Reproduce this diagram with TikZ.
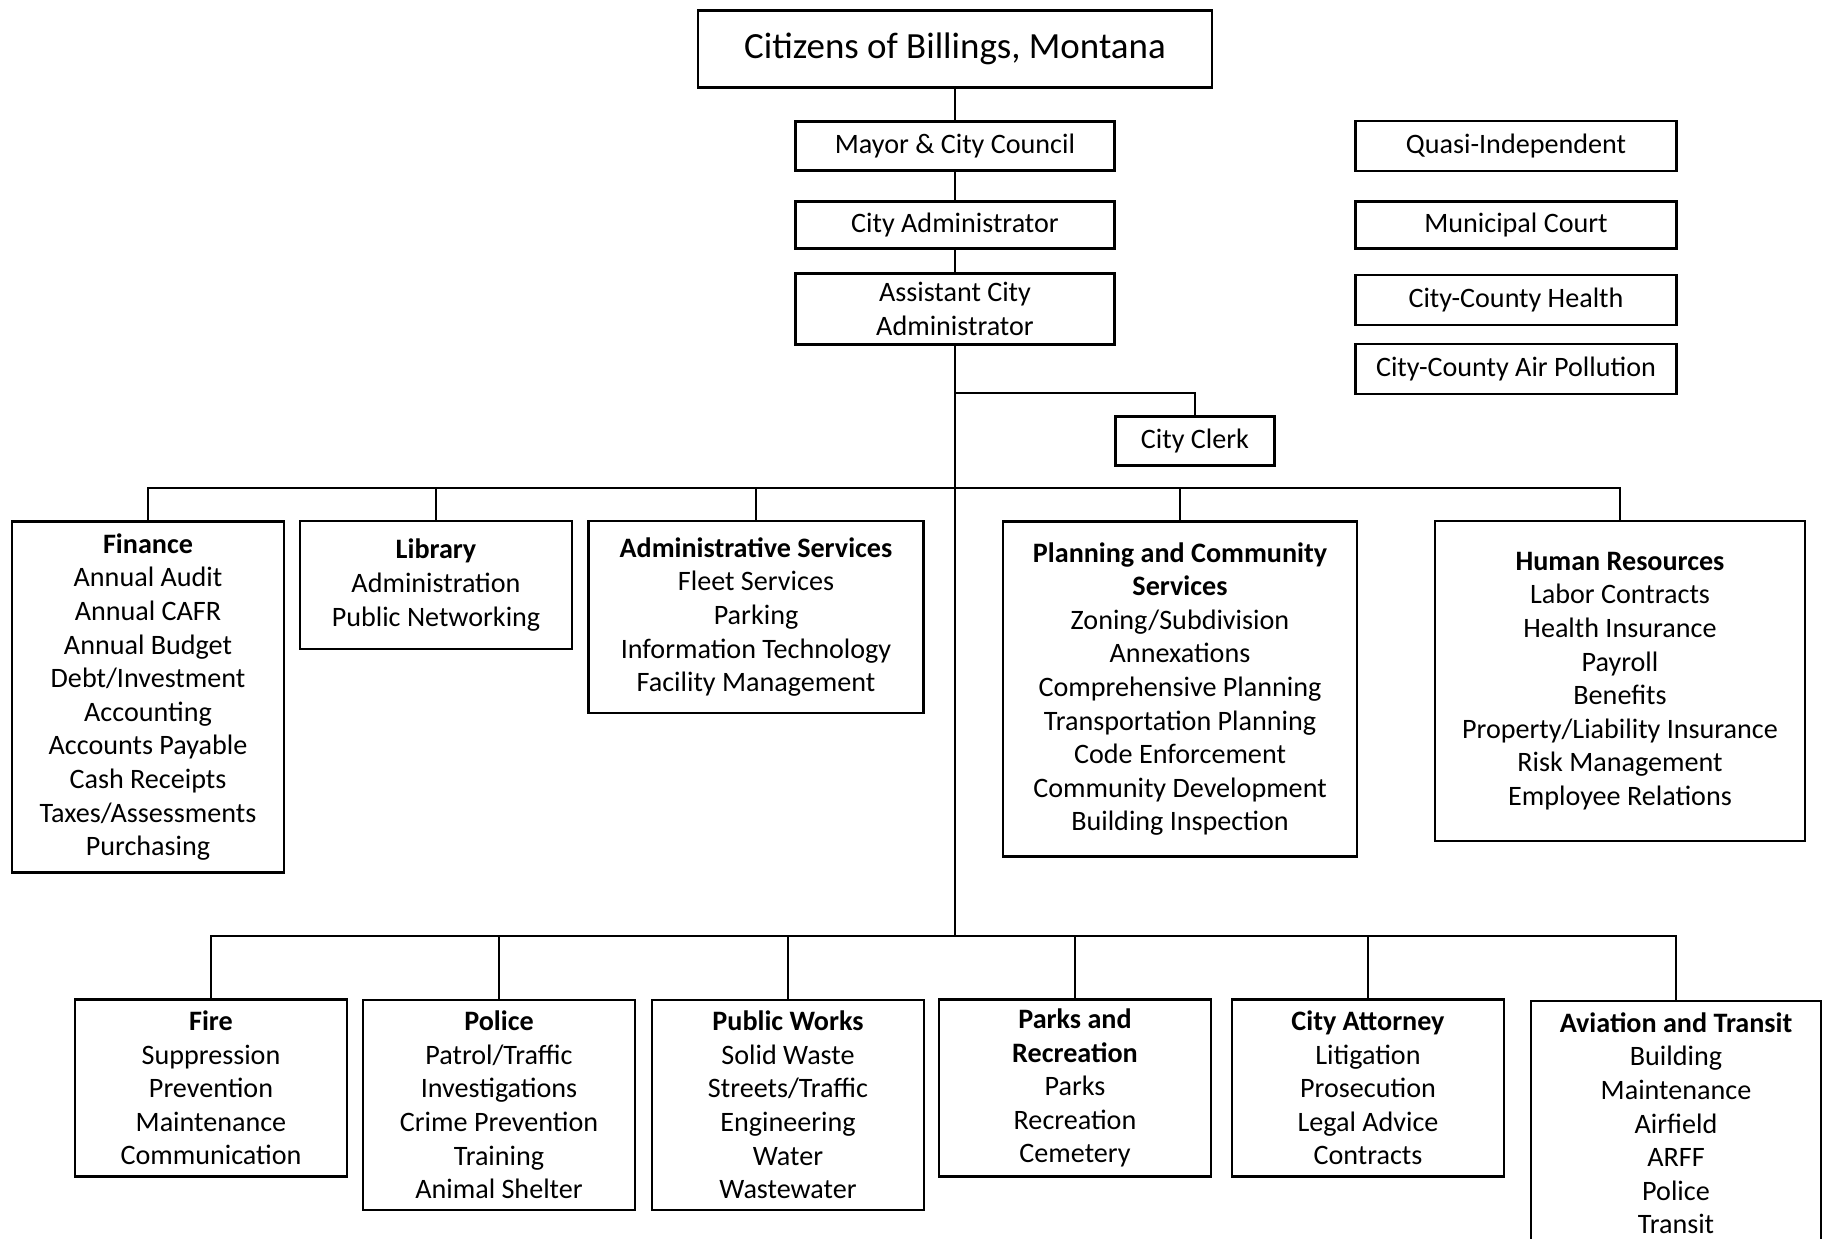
\documentclass[tikz,border=0pt]{standalone}
\usepackage{fontspec}
\setmainfont{Carlito}

\begin{document}
\begin{tikzpicture}[x=0.01cm,y=-0.01cm,line width=0.65pt,
	box/.style={rectangle,draw,align=center,inner sep=0pt,font=\fontsize{8}{9.55}\selectfont},
	chainbox/.style={minimum width=3.19cm,minimum height=0.49cm},
	indep/.style={minimum width=3.21cm,minimum height=0.5cm},
	dept/.style={minimum width=2.72cm}]
	\useasboundingbox (0,0) rectangle (1826,1238);
	\node (cit) at (955,49) [box,minimum width=5.14cm,minimum height=0.77cm,font=\fontsize{10.5}{12}\selectfont] {Citizens of Billings, Montana};
	\node (mayor) at (955,146) [box,chainbox] {Mayor \& City Council};
	\node (cadm) at (955,225) [box,chainbox,minimum height=0.47cm] {City Administrator};
	\node (asst) at (955,309) [box,chainbox,minimum height=0.71cm] {Assistant City\\Administrator};
	\node (clerk) at (1195,441) [box,minimum width=1.59cm,minimum height=0.49cm] {City Clerk};
	\node (quasi) at (1516,146) [box,indep] {Quasi-Independent};
	\node (court) at (1516,225) [box,indep,minimum height=0.47cm] {Municipal Court};
	\node (health) at (1516,300) [box,indep] {City-County Health};
	\node (air) at (1516,369) [box,indep] {City-County Air Pollution};
	\node (fin) at (148,697) [box,dept,minimum height=3.51cm] {\textbf{Finance}\\Annual Audit\\Annual CAFR\\Annual Budget\\Debt/Investment\\Accounting\\Accounts Payable\\Cash Receipts\\Taxes/Assessments\\Purchasing};
	\node (lib) at (436,585) [box,dept,minimum height=1.28cm] {\textbf{Library}\\Administration\\Public Networking};
	\node (adm) at (756,617) [box,minimum width=3.35cm,minimum height=1.92cm] {\textbf{Administrative Services}\\Fleet Services\\Parking\\Information Technology\\Facility Management};
	\node (plan) at (1180,689) [box,minimum width=3.54cm,minimum height=3.35cm] {\textbf{Planning and Community}\\\textbf{Services}\\Zoning/Subdivision\\Annexations\\Comprehensive Planning\\Transportation Planning\\Code Enforcement\\Community Development\\Building Inspection};
	\node (hr) at (1620,681) [box,minimum width=3.7cm,minimum height=3.2cm] {\textbf{Human Resources}\\Labor Contracts\\Health Insurance\\Payroll\\Benefits\\Property/Liability Insurance\\Risk Management\\Employee Relations};
	\node (fire) at (211,1088) [box,dept,minimum height=1.77cm] {\textbf{Fire}\\Suppression\\Prevention\\Maintenance\\Communication};
	\node (pol) at (499,1105) [box,dept,minimum height=2.1cm] {\textbf{Police}\\Patrol/Traffic\\Investigations\\Crime Prevention\\Training\\Animal Shelter};
	\node (pw) at (788,1105) [box,dept,minimum height=2.1cm] {\textbf{Public Works}\\Solid Waste\\Streets/Traffic\\Engineering\\Water\\Wastewater};
	\node (parks) at (1075,1088) [box,dept,minimum height=1.77cm] {\textbf{Parks and}\\\textbf{Recreation}\\Parks\\Recreation\\Cemetery};
	\node (atty) at (1368,1088) [box,dept,minimum height=1.77cm] {\textbf{City Attorney}\\Litigation\\Prosecution\\Legal Advice\\Contracts};
	\node (avi) at (1676,1000) [box,anchor=north,minimum width=2.9cm,minimum height=2.44cm] {\textbf{Aviation and Transit}\\Building\\Maintenance\\Airfield\\ARFF\\Police\\Transit};
	\coordinate (clerkjoin) at (955,393);
	\coordinate (upbus) at (955,488);
	\coordinate (lowbus) at (955,936);
	\draw (cit) -- (mayor);
	\draw (mayor) -- (cadm);
	\draw (cadm) -- (asst);
	\draw (asst) -- (lowbus);
	\draw (clerkjoin) -| (clerk);
	\foreach \d in {fin,lib,adm,plan,hr}
		\draw (upbus) -| (\d);
	\foreach \d in {fire,pol,pw,parks,atty,avi}
		\draw (lowbus) -| (\d);
\end{tikzpicture}
\end{document}
